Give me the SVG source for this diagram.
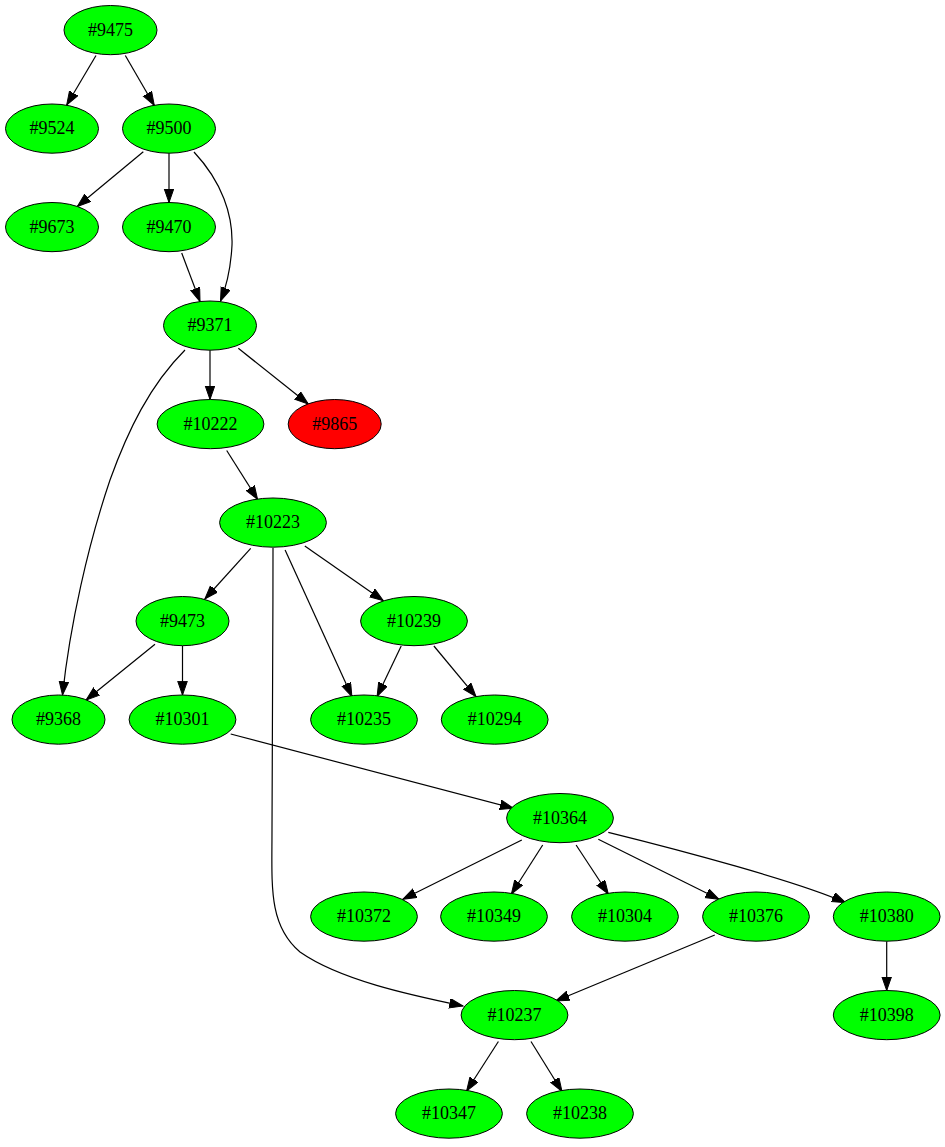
<svg xmlns="http://www.w3.org/2000/svg" width="945" height="1147" viewBox="0 0 945 1147">
<style>
  .node ellipse { fill: #00ff00; stroke: #000; stroke-width: 1; }
  .node.red ellipse { fill: #ff0000; }
  .node text { font-family: "Liberation Serif", "Times New Roman", serif; font-size: 18px; text-anchor: middle; fill: #000; }
  .edges path { fill: none; stroke: #000; stroke-width: 1.2; marker-end: url(#arrow); }
</style>
<defs>
  <marker id="arrow" markerUnits="userSpaceOnUse" markerWidth="15" markerHeight="11" refX="13.7" refY="5" orient="auto">
    <polygon points="0,0.2 13.7,5 0,9.8" fill="#000" stroke="#000" stroke-width="1"/>
  </marker>
</defs>
<rect width="945" height="1147" fill="#fff"/>

<g class="edges">
  <path d="M96,55.5 L66.7,105"/>
  <path d="M125.3,55.5 L154.3,105.5"/>
  <path d="M143.3,151.7 L77.3,206.5"/>
  <path d="M169,153.2 L169,202.5"/>
  <path d="M194,152 C222,182 233,215 232,245 C231,265 227,285 220.5,301"/>
  <path d="M181.7,253 L200,301.5"/>
  <path d="M210,350.2 L210,399.5"/>
  <path d="M238.3,348.3 L308.3,404"/>
  <path d="M185,350 C150,385 128,430 110,480 C88,545 70,625 62.5,695"/>
  <path d="M226.7,450.5 L257.6,499.5"/>
  <path d="M250.7,548.3 L204.9,599"/>
  <path d="M285.1,550 L351.9,696.5"/>
  <path d="M304.8,546 L383.3,600.7"/>
  <path d="M273,548 C273,650 272,760 272,830 C272,885 268,925 300,952 C340,980 410,995 463,1006"/>
  <path d="M155,644.3 L86.1,700"/>
  <path d="M182.5,645.7 L182.5,695"/>
  <path d="M401.2,646 L377.1,696.5"/>
  <path d="M433.9,646 L476,696.7"/>
  <path d="M230.7,734 L513.5,808.3"/>
  <path d="M521.8,840 L402.8,899.3"/>
  <path d="M542.7,845 L511.4,894"/>
  <path d="M576.1,845 L608.3,894"/>
  <path d="M598.3,839.3 L719,899.3"/>
  <path d="M608.3,832.3 C680,850 800,882 845.6,902.7"/>
  <path d="M714.8,935 L555.7,1001"/>
  <path d="M886.7,941.2 L886.7,990.5"/>
  <path d="M498.4,1041.5 L466.6,1091"/>
  <path d="M531,1041.5 L562,1091.5"/>
</g>

<g id="n9475" class="node"><ellipse cx="110.5" cy="30.1" rx="46.5" ry="24.6"/><text x="110.5" y="35.5">#9475</text></g>
<g id="n9524" class="node"><ellipse cx="52" cy="128.6" rx="46.5" ry="24.6"/><text x="52" y="134">#9524</text></g>
<g id="n9500" class="node"><ellipse cx="169" cy="128.6" rx="46.5" ry="24.6"/><text x="169" y="134">#9500</text></g>
<g id="n9673" class="node"><ellipse cx="52" cy="227.1" rx="46.5" ry="24.6"/><text x="52" y="232.5">#9673</text></g>
<g id="n9470" class="node"><ellipse cx="169" cy="227.1" rx="46.5" ry="24.6"/><text x="169" y="232.5">#9470</text></g>
<g id="n9371" class="node"><ellipse cx="210" cy="325.6" rx="46.5" ry="24.6"/><text x="210" y="331">#9371</text></g>
<g id="n10222" class="node"><ellipse cx="210.5" cy="424.1" rx="53.4" ry="24.6"/><text x="210.5" y="429.5">#10222</text></g>
<g id="n9865" class="node red"><ellipse cx="334.7" cy="424.1" rx="46.5" ry="24.6"/><text x="334.7" y="429.5">#9865</text></g>
<g id="n10223" class="node"><ellipse cx="273" cy="522.6" rx="53.4" ry="24.6"/><text x="273" y="528">#10223</text></g>
<g id="n9473" class="node"><ellipse cx="182.5" cy="621.1" rx="46.5" ry="24.6"/><text x="182.5" y="626.5">#9473</text></g>
<g id="n10239" class="node"><ellipse cx="414" cy="621.1" rx="53.4" ry="24.6"/><text x="414" y="626.5">#10239</text></g>
<g id="n9368" class="node"><ellipse cx="58.5" cy="719.6" rx="46.5" ry="24.6"/><text x="58.5" y="725">#9368</text></g>
<g id="n10301" class="node"><ellipse cx="182.5" cy="719.6" rx="53.4" ry="24.6"/><text x="182.5" y="725">#10301</text></g>
<g id="n10235" class="node"><ellipse cx="364" cy="719.6" rx="53.4" ry="24.6"/><text x="364" y="725">#10235</text></g>
<g id="n10294" class="node"><ellipse cx="494.7" cy="719.6" rx="53.4" ry="24.6"/><text x="494.7" y="725">#10294</text></g>
<g id="n10364" class="node"><ellipse cx="560" cy="818.1" rx="53.4" ry="24.6"/><text x="560" y="823.5">#10364</text></g>
<g id="n10372" class="node"><ellipse cx="364" cy="916.6" rx="53.4" ry="24.6"/><text x="364" y="922">#10372</text></g>
<g id="n10349" class="node"><ellipse cx="494" cy="916.6" rx="53.4" ry="24.6"/><text x="494" y="922">#10349</text></g>
<g id="n10304" class="node"><ellipse cx="625" cy="916.6" rx="53.4" ry="24.6"/><text x="625" y="922">#10304</text></g>
<g id="n10376" class="node"><ellipse cx="756" cy="916.6" rx="53.4" ry="24.6"/><text x="756" y="922">#10376</text></g>
<g id="n10380" class="node"><ellipse cx="886.7" cy="916.6" rx="53.4" ry="24.6"/><text x="886.7" y="922">#10380</text></g>
<g id="n10398" class="node"><ellipse cx="886.7" cy="1015.1" rx="53.4" ry="24.6"/><text x="886.7" y="1020.5">#10398</text></g>
<g id="n10237" class="node"><ellipse cx="514.5" cy="1015.1" rx="53.4" ry="24.6"/><text x="514.5" y="1020.5">#10237</text></g>
<g id="n10347" class="node"><ellipse cx="449" cy="1113.6" rx="53.4" ry="24.6"/><text x="449" y="1119">#10347</text></g>
<g id="n10238" class="node"><ellipse cx="580" cy="1113.6" rx="53.4" ry="24.6"/><text x="580" y="1119">#10238</text></g>
</svg>
